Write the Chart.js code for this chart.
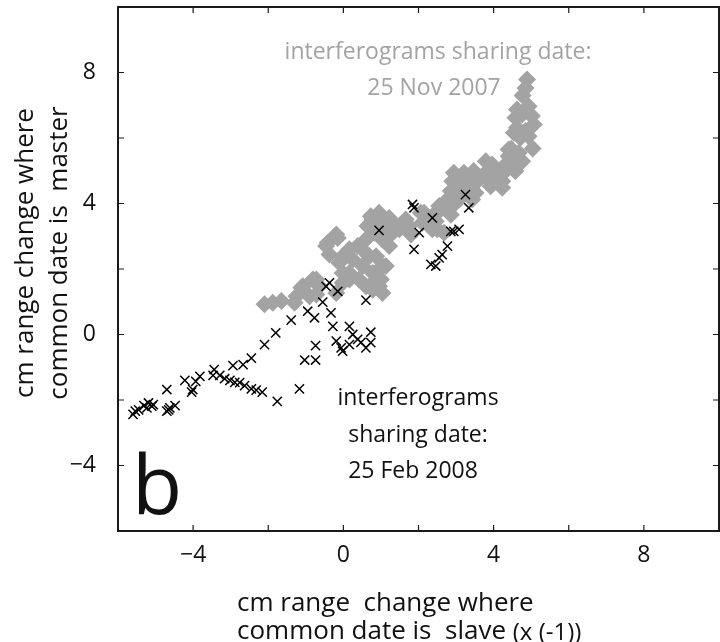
<!DOCTYPE html>
<html>
<head>
<meta charset="utf-8">
<script src="https://cdn.jsdelivr.net/npm/chart.js@4.4.1/dist/chart.umd.min.js"></script>
<style>
  html,body{margin:0;padding:0;background:#fff;overflow:hidden;}
  #wrap{width:720px;height:642px;}
  canvas{display:block;}
</style>
</head>
<body>
<div id="wrap"><canvas id="scatter" width="720" height="642"></canvas></div>
<script>
// ticks shown on the axes
const xTickLabels = [-4, 0, 4, 8];
const yTickLabels = [-4, 0, 4, 8];

// interferograms sharing 25 Nov 2007 (grey diamonds)
const novX = [4.89,4.85,4.77,4.93,4.62,4.58,5.02,5.07,4.62,4.54,4.85,4.93,4.71,4.76,5.04,4.47,4.40,4.36,4.58,4.76,
  4.54,3.96,3.79,3.87,4.05,4.23,4.23,3.47,3.21,2.94,2.90,3.12,3.34,3.61,3.16,3.52,3.43,2.77,2.86,2.55,
  2.50,2.72,2.99,2.86,2.15,2.28,2.10,2.46,2.50,2.68,1.66,1.75,1.49,1.22,1.04,0.78,0.82,1.80,-0.19,-0.46,
  -0.02,0.16,0.38,0.60,0.73,0.95,1.22,2.06,2.37,0.87,1.04,1.31,1.22,0.60,0.87,1.04,1.00,0.78,0.51,0.25,
  0.16,0.42,0.60,0.95,1.04,-0.02,-0.19,-0.64,-0.81,-1.08,-0.90,2.99,3.79,3.92,4.14,4.23,4.32,4.49,4.40,4.67,
  4.67,4.58,3.34,3.08,-2.10,-1.88,-1.65,-1.30,-1.12,-1.25,-0.72,-0.72,-0.42,-0.15,-0.37,-0.11,-0.02,0.16,0.64,1.04,
  1.18,0.69,0.95,1.13,0.87,0.78,1.40,2.37];
const novY = [7.79,7.53,7.30,6.97,6.87,6.62,6.67,6.41,6.31,6.16,6.21,6.05,6.01,6.72,5.68,5.67,5.44,5.24,5.34,5.29,
  5.04,5.19,4.94,4.73,4.94,4.68,4.48,4.99,4.94,4.94,4.68,4.68,4.63,4.73,4.38,4.33,4.12,4.12,4.38,3.92,
  3.72,3.87,4.02,3.66,3.72,3.56,3.41,3.46,3.21,3.11,3.51,3.31,3.21,3.26,3.11,3.51,3.11,3.05,3.05,2.70,
  2.39,2.60,2.70,2.90,3.61,3.72,3.56,3.72,3.21,3.21,2.90,3.11,2.70,2.49,2.39,2.09,1.68,1.88,2.09,2.29,
  1.88,1.68,1.47,1.47,1.27,1.58,1.27,1.47,1.68,1.47,1.17,4.73,5.29,4.53,4.63,4.89,5.14,5.44,5.65,5.55,
  5.25,4.99,4.33,4.12,0.92,0.97,1.02,0.97,1.43,1.17,1.68,1.22,2.80,2.95,2.44,2.19,1.88,1.68,3.31,3.41,
  3.11,2.39,1.98,2.09,1.68,1.37,3.31,3.61];

// interferograms sharing 25 Feb 2008 (black crosses)
const febX = [-5.60,-5.54,-5.45,-5.31,-5.19,-5.10,-5.23,-5.06,-4.70,-4.62,-4.65,-4.48,-4.70,-4.22,-4.04,-3.93,-3.82,-4.01,
  -3.44,-3.47,-3.29,-3.16,-3.02,-2.89,-2.76,-2.63,-2.45,-2.32,-2.16,-1.76,-2.94,-2.67,-2.45,-2.10,-1.80,-1.39,
  -0.95,-0.77,-1.17,-1.03,-0.74,-0.74,-0.55,-0.33,-0.37,-0.46,-0.15,-0.28,-0.19,-0.06,0.16,0.25,0.38,0.16,
  0.60,0.73,0.73,0.60,0.47,-0.02,0.95,1.88,1.84,3.25,3.34,2.37,2.02,1.88,2.86,3.08,2.77,2.55,2.33,2.46,2.63,2.94];
const febY = [-2.44,-2.34,-2.30,-2.17,-2.09,-2.19,-2.24,-2.14,-2.34,-2.24,-2.30,-2.17,-1.68,-1.40,-1.76,-1.43,-1.28,-1.68,
  -1.07,-1.25,-1.25,-1.35,-1.40,-1.46,-1.47,-1.56,-1.66,-1.70,-1.76,-2.04,-0.95,-0.92,-0.72,-0.31,0.05,0.44,
  0.71,0.51,-1.66,-0.78,-0.78,-0.34,0.99,0.66,1.58,1.47,1.32,0.25,-0.20,-0.41,0.25,0.00,-0.15,-0.31,
  -0.41,0.07,-0.25,1.05,-0.24,-0.51,3.18,3.87,3.97,4.27,3.87,3.56,3.11,2.60,3.15,3.21,2.70,2.34,2.14,2.09,2.44,3.15];

const grey = '#a3a3a3';
const fontFam = '"Open Sans", "Noto Sans", sans-serif';

function pts(xs, ys){ return xs.map((x,i)=>({x:x, y:ys[i]})); }

// frame with inward ticks on all four sides, plus the text
const framePlugin = {
  id:'framePlugin',
  afterDraw(chart){
    const ctx = chart.ctx, a = chart.chartArea;
    const sx = chart.scales.x, sy = chart.scales.y;
    ctx.save();
    ctx.strokeStyle = '#1a1a1a';
    ctx.lineWidth = 1.2;
    for (let v=-4; v<=8; v+=2){
      const px = sx.getPixelForValue(v);
      ctx.beginPath();
      ctx.moveTo(px, a.bottom); ctx.lineTo(px, a.bottom-6);
      ctx.moveTo(px, a.top); ctx.lineTo(px, a.top+6);
      ctx.stroke();
      const py = sy.getPixelForValue(v);
      ctx.beginPath();
      ctx.moveTo(a.left, py); ctx.lineTo(a.left+6, py);
      ctx.moveTo(a.right, py); ctx.lineTo(a.right-6, py);
      ctx.stroke();
    }
    ctx.lineWidth = 2;
    ctx.strokeRect(a.left, a.top, a.right-a.left, a.bottom-a.top);

    // annotations
    ctx.textAlign = 'center';
    ctx.textBaseline = 'middle';
    ctx.font = '23px ' + fontFam;
    ctx.fillStyle = grey;
    ctx.fillText('interferograms sharing date:', 438, 52);
    ctx.fillText('25 Nov 2007', 434, 88);
    ctx.fillStyle = '#111';
    ctx.fillText('interferograms', 418, 398);
    ctx.fillText('sharing date:', 418, 435);
    ctx.fillText('25 Feb 2008', 413, 471);
    ctx.textAlign = 'left';
    ctx.textBaseline = 'alphabetic';
    ctx.font = '82px ' + fontFam;
    ctx.fillText('b', 132, 514);
    ctx.textBaseline = 'middle';

    // axis titles
    ctx.font = '26px ' + fontFam;
    ctx.fillText('cm range  change where', 237, 604);
    ctx.fillText('common date is  slave ', 237, 632);
    const w = ctx.measureText('common date is  slave ').width;
    ctx.font = '24px ' + fontFam;
    ctx.fillText('(x (-1))', 237+w, 633);

    ctx.font = '26px ' + fontFam;
    ctx.textAlign = 'center';
    ctx.translate(26, 253);
    ctx.rotate(-Math.PI/2);
    ctx.fillText('cm range change where', 0, 0);
    ctx.fillText('common date is  master', 0, 34);
    ctx.restore();
  }
};

new Chart(document.getElementById('scatter'),{
  type:'scatter',
  data:{
    datasets:[{
      data:pts(febX, febY),
      pointStyle:'crossRot',
      pointRadius:6.5,
      borderColor:'#000',
      borderWidth:1.5,
      order:0
    },{
      data:pts(novX, novY),
      pointStyle:'rectRot',
      pointRadius:9,
      backgroundColor:grey,
      borderColor:grey,
      borderWidth:0,
      order:1
    }]
  },
  options:{
    responsive:false,
    animation:false,
    layout:{autoPadding:false, padding:{top:7, right:1, left:0, bottom:0}},
    plugins:{legend:{display:false}, tooltip:{enabled:false}},
    scales:{
      x:{
        type:'linear', min:-6, max:10,
        grid:{display:false}, border:{display:false},
        afterFit:s=>{ s.height = 111; s.paddingLeft = 0; s.paddingRight = 0; },
        ticks:{
          stepSize:2, padding:3, color:'#111', maxRotation:0, autoSkip:false,
          font:{size:23, family:fontFam},
          callback:v=>xTickLabels.includes(v) ? (v<0 ? '\u2212'+Math.abs(v) : ''+v) : ''
        }
      },
      y:{
        type:'linear', min:-6, max:10,
        grid:{display:false}, border:{display:false},
        afterFit:s=>{ s.width = 118; s.paddingTop = 0; s.paddingBottom = 0; },
        ticks:{
          stepSize:2, padding:14, color:'#111', autoSkip:false,
          font:{size:23, family:fontFam},
          callback:v=>yTickLabels.includes(v) ? (v<0 ? '\u2212'+Math.abs(v) : ''+v) : ''
        }
      }
    }
  },
  plugins:[framePlugin]
});
</script>
</body>
</html>
